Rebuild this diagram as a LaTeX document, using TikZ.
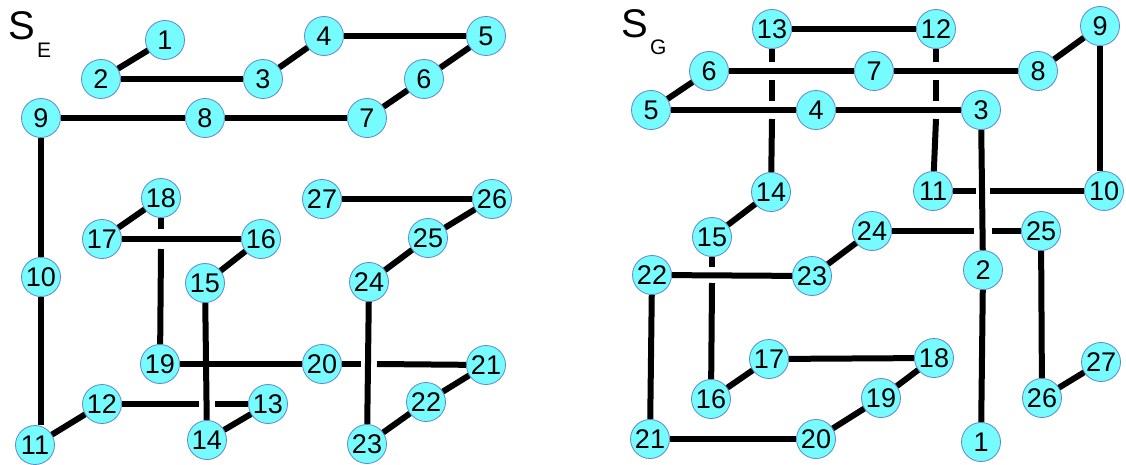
\documentclass[tikz,border=0pt]{standalone}
\usepackage{fontspec}
\setmainfont{Liberation Sans}
\usetikzlibrary{calc}
\definecolor{nodefill}{RGB}{118,251,255}
\definecolor{nodeedge}{RGB}{95,135,205}
\begin{document}
\begin{tikzpicture}[x=1pt,y=-1pt,
  vtx/.style={circle, fill=nodefill, draw=nodeedge, line width=0.8pt,
    minimum size=39pt, inner sep=0pt, font=\fontsize{27}{27}\selectfont},
  link/.style={line width=6pt, black},
  bigS/.style={inner sep=0pt, anchor=base west, font=\fontsize{40}{40}\selectfont},
  subS/.style={inner sep=0pt, anchor=base west, font=\fontsize{21}{21}\selectfont}]
\useasboundingbox (0,0) rectangle (1126,465);

% ---- left graph S_E ----
\node[bigS] (tE) at (8,40) {S};
\node[subS] (tEsub) at (37,58) {E};

\foreach \n/\x/\y in {1/165/40, 2/101/79, 3/263/79, 4/324/36, 5/486/36,
  6/424/79, 7/367/118, 8/205/118, 9/41/118, 10/41/277, 11/35/445,
  12/102/404, 13/268/404, 14/207/440, 15/205/283, 16/261/239, 17/102/239,
  18/161/198, 19/160/364, 20/322/364, 21/486/365, 22/426/402, 23/367/444,
  24/369/282, 25/428/238, 26/492/199, 27/322/199}
  \node[vtx] (e\n) at (\x,\y) {\n};

\foreach \a/\b in {1/2, 2/3, 3/4, 4/5, 5/6, 6/7, 7/8, 8/9, 9/10, 11/12,
  13/14, 14/15, 15/16, 16/17, 17/18, 19/20, 21/22, 22/23, 23/24, 24/25,
  25/26, 26/27}
  \draw[link] (e\a) -- (e\b);
\draw[link] (e10) -- (e10 |- e11.north);

% edges broken where they pass behind another edge
\draw[link] (e12) -- ($(e14 |- e12)+(-8,0)$);
\draw[link] ($(e14 |- e12)+(8,0)$) -- (e13);
\draw[link] (e18) -- ($(e18 |- e17)+(0,-10)$);
\draw[link] ($(e18 |- e17)+(0,10)$) -- (e19);
\draw[link] (e20) -- ($(e24 |- e20)+(-8,0)$);
\draw[link] ($(e24 |- e20)+(8,0)$) -- (e21);

% ---- right graph S_G ----
\node[bigS] (tG) at (621,38) {S};
\node[subS] (tGsub) at (650,55) {G};

\foreach \n/\x/\y in {1/981/442, 2/983/270, 3/981/110, 4/816/110, 5/651/110,
  6/709/71, 7/874/71, 8/1038/71, 9/1100/26, 10/1104/191, 11/933/191,
  12/936/29, 13/772/29, 14/771/192, 15/712/237, 16/711/399, 17/769/359,
  18/934/358, 19/881/398, 20/816/439, 21/650/439, 22/652/275, 23/812/276,
  24/872/231, 25/1041/231, 26/1042/398, 27/1101/362}
  \node[vtx] (g\n) at (\x,\y) {\n};

\foreach \a/\b in {1/2, 2/3, 3/4, 4/5, 5/6, 6/7, 7/8, 8/9, 12/13, 14/15,
  16/17, 17/18, 18/19, 19/20, 20/21, 21/22, 22/23, 23/24, 25/26, 26/27}
  \draw[link] (g\a) -- (g\b);
\draw[link] (g9) -- (g9 |- g10.north);

% edges broken where they pass behind another edge
\draw[link] (g13) -- ($(g13 |- g6)+(0,-9)$);
\draw[link] ($(g13 |- g6)+(0,9)$) -- ($(g13 |- g5)+(0,-9)$);
\draw[link] ($(g13 |- g5)+(0,9)$) -- (g14);
\draw[link] (g12) -- ($(g12 |- g7)+(0,-9)$);
\draw[link] ($(g12 |- g7)+(0,9)$) -- ($(g12 |- g3)+(0,-9)$);
\draw[link] ($(g12 |- g3)+(0,9)$) -- (g11);
\draw[link] (g11) -- ($(g2 |- g11)+(-7,0)$);
\draw[link] ($(g2 |- g11)+(7,0)$) -- (g10);
\draw[link] (g24) -- ($(g2 |- g24)+(-9,0)$);
\draw[link] ($(g2 |- g24)+(9,0)$) -- (g25);
\draw[link] (g15) -- ($(g15 |- g22)+(0,-8)$);
\draw[link] ($(g15 |- g22)+(0,8)$) -- (g16);
\end{tikzpicture}
\end{document}
